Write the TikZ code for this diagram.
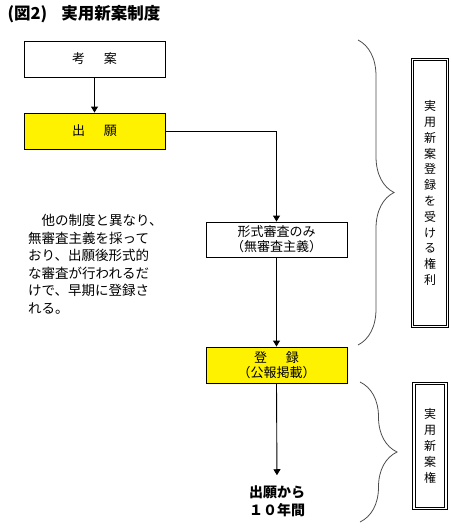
\documentclass[tikz,border=0pt]{standalone}
\usepackage{fontspec}
\setmainfont{Noto Sans CJK JP}
\usepackage{tikz}
\usetikzlibrary{positioning}
\usetikzlibrary{arrows.meta}
\usetikzlibrary{decorations.pathreplacing}
\tikzstyle{stepbox}=[rectangle,draw,line width=0.9pt,minimum width=141pt,minimum height=36pt,inner sep=0pt,align=center,font=\fontsize{13}{15}\selectfont]
\tikzstyle{yellowbox}=[stepbox,fill=yellow]
\tikzstyle{sidebox}=[rectangle,draw,double,double distance=1.5pt,line width=0.8pt,minimum width=35pt,inner sep=0pt,align=center,font=\fontsize{12}{15.8}\selectfont]
\tikzstyle{edge}=[draw,line width=0.9pt,-{Triangle[length=6pt,width=7pt]}]
\tikzstyle{bracket}=[draw,black!70,line width=0.8pt,decorate,decoration={brace,amplitude=36pt}]
\newcommand{\jgap}{\hspace{19pt}}

\begin{document}
\begin{tikzpicture}[x=1pt,y=-1pt]
    \useasboundingbox (0,0) rectangle (450,530);

    \node[anchor=west,font=\bfseries\fontsize{16.5}{18}\selectfont] (title) at (4,14) {(図2)\hspace{14pt}実用新案制度};

    % flow on the left
    \node[stepbox] (kouan) at (94.5,59) {考\jgap{}案};
    \node[yellowbox] (shutsugan) at (94.5,131) {出\jgap{}願};
    \node[stepbox,minimum height=35pt] (keishiki) at (276.5,239.5) {形式審査のみ\\（無審査主義）};
    \node[yellowbox] (touroku) at (276.5,365) {登\jgap{}録\\（公報掲載）};
    \node[font=\bfseries\fontsize{14}{18}\selectfont,align=center,inner sep=2pt] (kikan) at (277,501) {出願から\\１０年間};

    \node[anchor=north west,align=left,inner sep=0pt,font=\fontsize{13.5}{17.6}\selectfont] (note) at (28,214)
        {　他の制度と異なり、\\無審査主義を採って\\おり、出願後形式的\\な審査が行われるだ\\けで、早期に登録さ\\れる。};

    \foreach \source/\dest in {kouan/shutsugan, keishiki/touroku}
        \path[edge] (\source) -- (\dest);
    \path[edge] (shutsugan.east) -| (keishiki.north);
    \path[edge,shorten >=8pt] (touroku.south) -- (kikan.north);

    % braces and rights
    \coordinate (bA) at (358,40);
    \coordinate (bB) at (358,345);
    \coordinate (bC) at (360,382);
    \coordinate (bD) at (360,522);
    \path[bracket] (bA) -- (bB);
    \path[bracket,decoration={amplitude=37pt}] (bC) -- (bD);

    \node[sidebox,minimum height=267pt] (kenri) at (430,193) {実\\用\\新\\案\\登\\録\\を\\受\\け\\る\\権\\利};
    \node[sidebox,minimum width=32pt,minimum height=125pt] (ken) at (430,446) {実\\用\\新\\案\\権};
\end{tikzpicture}
\end{document}
